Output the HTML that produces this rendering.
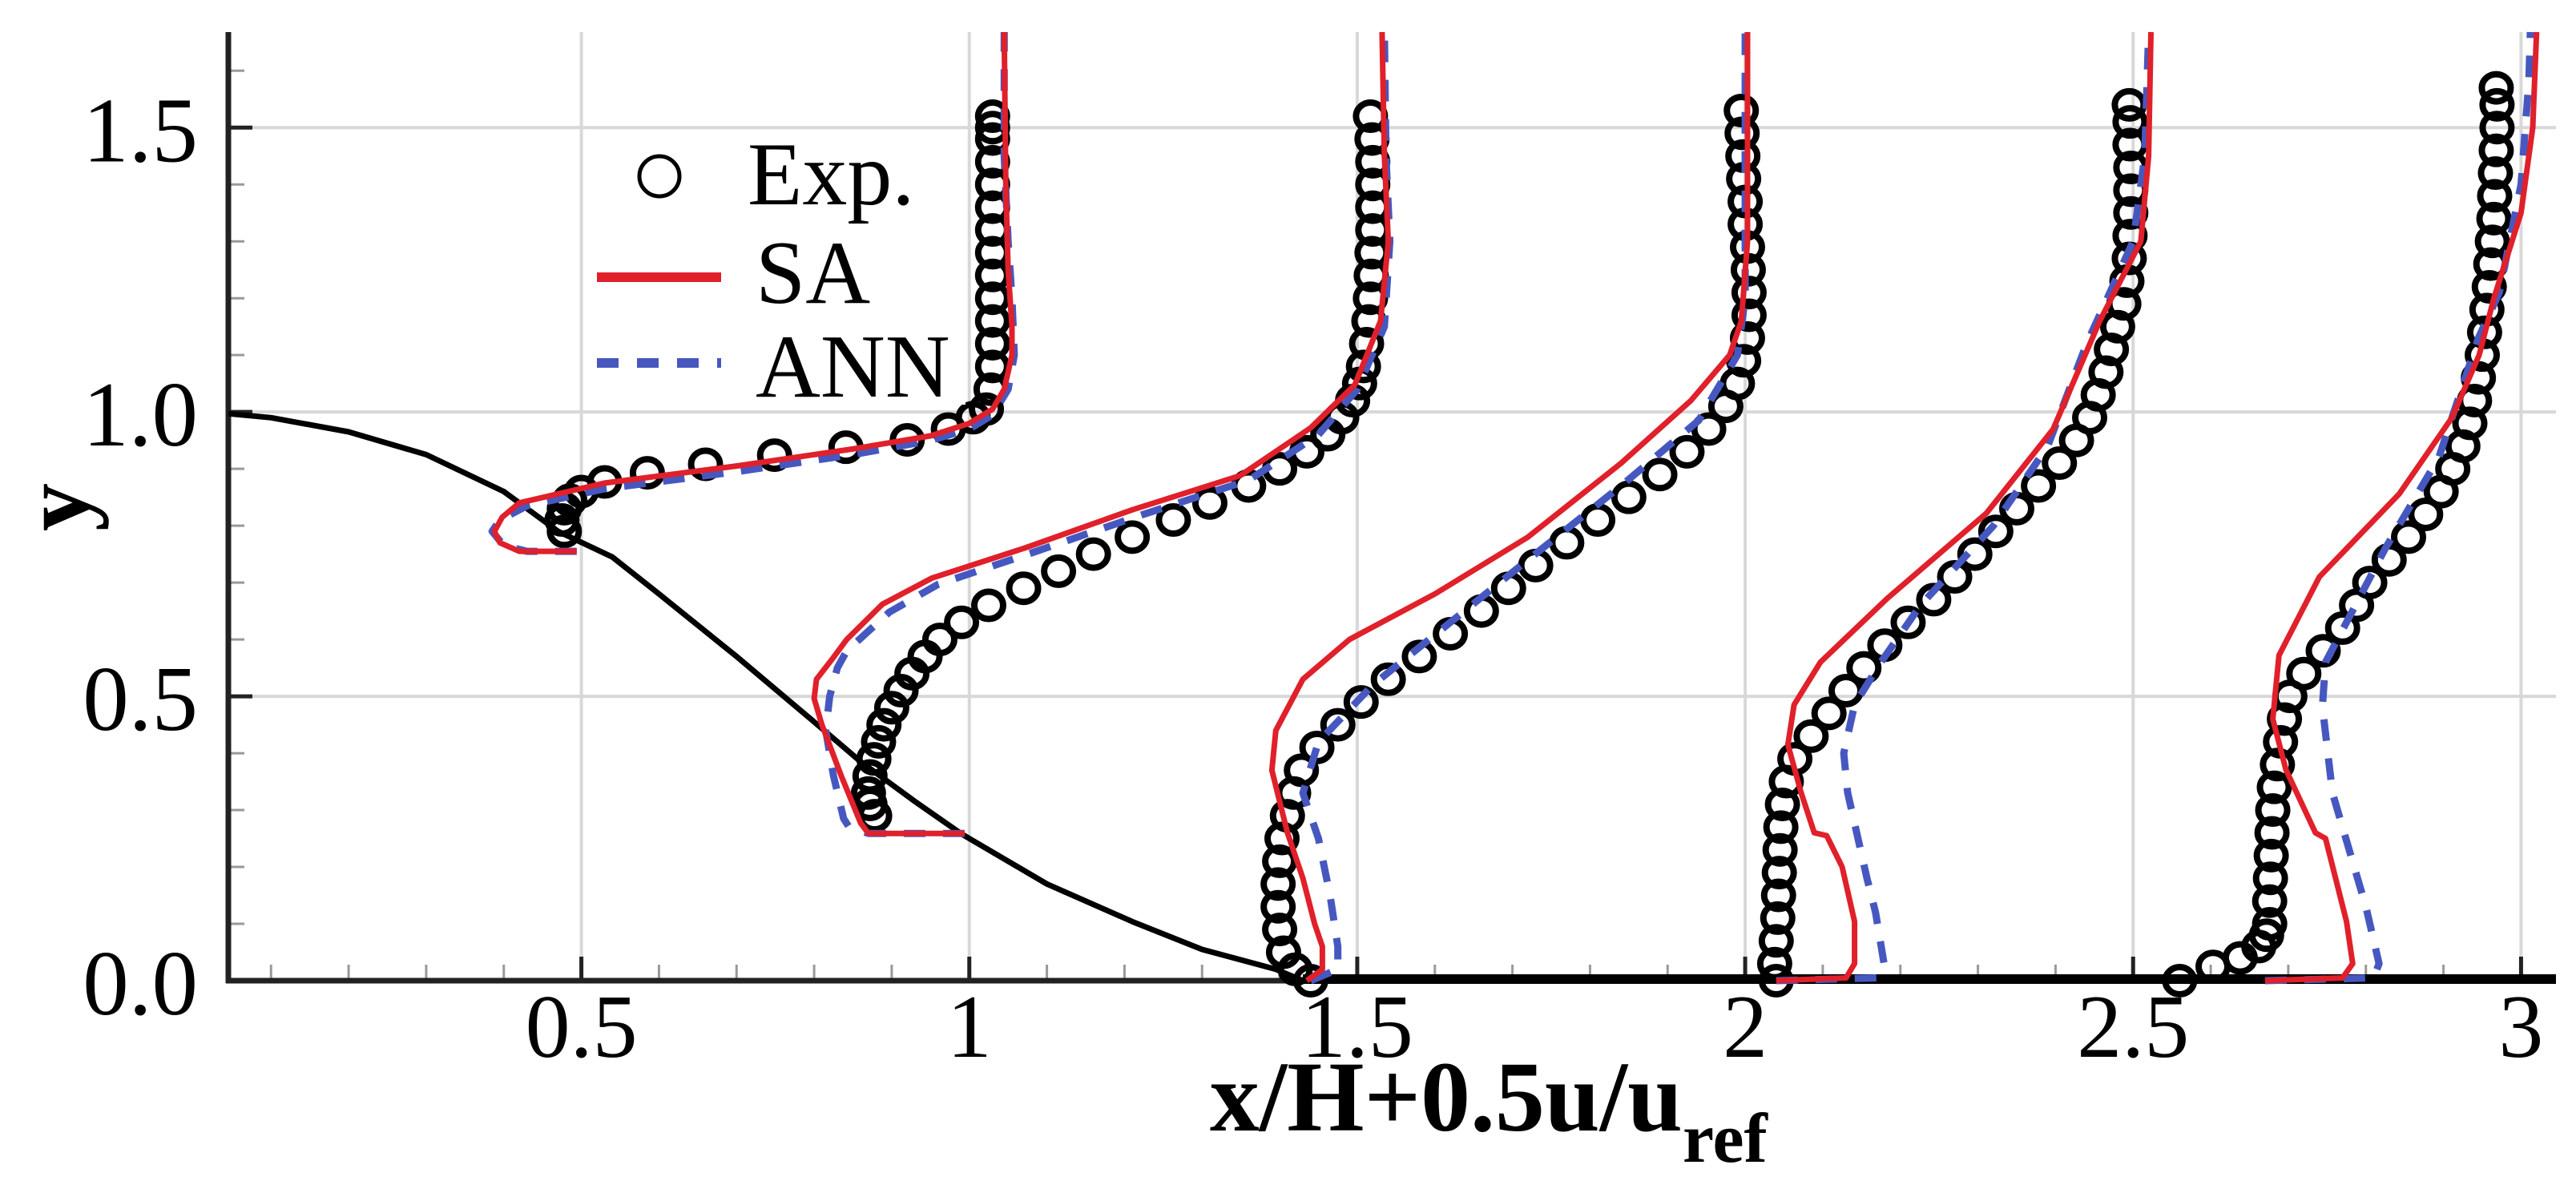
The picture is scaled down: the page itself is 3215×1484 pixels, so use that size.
<!DOCTYPE html>
<html><head><meta charset="utf-8"><style>
html,body{margin:0;padding:0;background:#fff;}
svg{display:block;}
text{font-family:"Liberation Serif","DejaVu Serif",serif;fill:#000;}
</style></head><body>
<svg id="chart" width="3215" height="1484" viewBox="0 0 3215 1484" xmlns="http://www.w3.org/2000/svg">
<g id="grid"></g>
<g id="axes"></g>
<g id="series"></g>
<g id="legend">
  <rect x="735" y="165" width="470" height="340" fill="#fff"/>
  <circle cx="823" cy="220" r="25" fill="none" stroke="#000" stroke-width="5"/>
  <text x="933" y="255" font-size="112">Exp.</text>
  <line x1="745" y1="346" x2="900" y2="346" stroke="#e0202a" stroke-width="12"/>
  <text x="943" y="378" font-size="112">SA</text>
  <line x1="745" y1="453" x2="900" y2="453" stroke="#4658c0" stroke-width="12" stroke-dasharray="27,23"/>
  <text x="943" y="495" font-size="112">ANN</text>
</g>
<text x="1510" y="1411" font-size="125" font-weight="bold" textLength="590" lengthAdjust="spacingAndGlyphs">x/H+0.5u/u</text>
<text x="2100" y="1450" font-size="88" font-weight="bold">ref</text>
<text transform="translate(110,633) rotate(-90)" text-anchor="middle" font-size="120" font-weight="bold">y</text>
</svg>
<script>
// ---- data ----
const xTicks = [0.5, 1, 1.5, 2, 2.5, 3];
const xTickLabels = ["0.5", "1", "1.5", "2", "2.5", "3"];
const yTicks = [0.0, 0.5, 1.0, 1.5];
const yTickLabels = ["0.0", "0.5", "1.0", "1.5"];

const hillX = [0.045,0.1,0.2,0.3,0.4,0.47,0.54,0.6,0.7,0.8,0.86,0.93,0.99,1.1,1.21,1.3,1.395,1.43,3.045];
const hillY = [0.997,0.99,0.965,0.925,0.86,0.79,0.745,0.68,0.57,0.455,0.385,0.315,0.258,0.17,0.104,0.055,0.02,0.0,0.0];

const exp1X = [0.478,0.475,0.478,0.485,0.5,0.53,0.585,0.66,0.749,0.841,0.92,0.973,1.005,1.022,1.028,1.03,1.03,1.03,1.03,1.03,1.03,1.03,1.03,1.03,1.03,1.03,1.03,1.03];
const exp1Y = [0.79,0.81,0.83,0.845,0.86,0.877,0.893,0.908,0.924,0.938,0.951,0.97,0.99,1.005,1.04,1.08,1.12,1.16,1.2,1.24,1.28,1.32,1.36,1.4,1.44,1.48,1.5,1.52];

const exp2X = [0.878,0.872,0.870,0.872,0.877,0.883,0.89,0.90,0.912,0.926,0.943,0.962,0.99,1.025,1.07,1.115,1.16,1.21,1.263,1.31,1.36,1.40,1.435,1.462,1.48,1.494,1.503,1.508,1.512,1.515,1.517,1.518,1.519,1.52,1.52,1.52,1.52,1.519,1.517];
const exp2Y = [0.29,0.31,0.33,0.36,0.39,0.42,0.45,0.48,0.51,0.54,0.57,0.60,0.63,0.66,0.69,0.72,0.75,0.78,0.81,0.84,0.87,0.90,0.93,0.96,0.99,1.02,1.05,1.08,1.12,1.16,1.20,1.24,1.28,1.32,1.36,1.40,1.44,1.48,1.52];

const exp3X = [1.44,1.42,1.405,1.40,1.398,1.398,1.40,1.403,1.41,1.418,1.428,1.448,1.475,1.505,1.54,1.58,1.62,1.66,1.695,1.73,1.77,1.81,1.85,1.89,1.925,1.953,1.975,1.99,1.998,2.003,2.005,2.005,2.004,2.003,2.0,2.0,1.998,1.997,1.996,1.995];
const exp3Y = [0.0,0.02,0.05,0.09,0.13,0.17,0.21,0.25,0.29,0.33,0.37,0.41,0.45,0.49,0.53,0.57,0.61,0.65,0.69,0.73,0.77,0.81,0.85,0.89,0.93,0.97,1.01,1.05,1.09,1.13,1.17,1.21,1.25,1.29,1.33,1.37,1.41,1.45,1.49,1.53];

const exp4X = [2.04,2.038,2.04,2.042,2.043,2.044,2.045,2.046,2.048,2.053,2.064,2.085,2.108,2.13,2.153,2.18,2.21,2.243,2.27,2.296,2.323,2.35,2.378,2.405,2.427,2.444,2.455,2.465,2.472,2.48,2.488,2.492,2.495,2.496,2.497,2.497,2.497,2.496,2.496,2.495];
const exp4Y = [0.0,0.03,0.07,0.11,0.15,0.19,0.23,0.27,0.31,0.35,0.39,0.43,0.47,0.51,0.55,0.59,0.63,0.67,0.71,0.75,0.79,0.83,0.87,0.91,0.95,0.99,1.03,1.07,1.11,1.15,1.19,1.23,1.27,1.31,1.35,1.39,1.43,1.47,1.51,1.54];

const exp5X = [2.56,2.603,2.638,2.662,2.672,2.676,2.676,2.677,2.678,2.679,2.68,2.682,2.686,2.69,2.695,2.702,2.72,2.745,2.77,2.788,2.805,2.83,2.855,2.877,2.897,2.912,2.925,2.934,2.94,2.945,2.95,2.953,2.956,2.959,2.961,2.963,2.965,2.966,2.967,2.968,2.969,2.969,2.968];
const exp5Y = [0.0,0.025,0.04,0.06,0.08,0.1,0.14,0.18,0.22,0.26,0.30,0.34,0.38,0.42,0.46,0.50,0.54,0.58,0.62,0.66,0.70,0.74,0.78,0.82,0.86,0.90,0.94,0.98,1.02,1.06,1.10,1.14,1.18,1.22,1.26,1.30,1.34,1.38,1.42,1.46,1.50,1.54,1.57];

const sa1X = [0.494,0.42,0.395,0.388,0.398,0.42,0.53,0.7,0.85,0.95,1.0,1.03,1.045,1.055,1.055,1.05,1.047,1.045];
const sa1Y = [0.755,0.755,0.77,0.79,0.815,0.84,0.875,0.905,0.935,0.958,0.98,1.005,1.04,1.1,1.15,1.25,1.4,1.668];
const ann1X = [0.494,0.43,0.4,0.385,0.395,0.43,0.53,0.7,0.85,0.95,1.0,1.03,1.05,1.058,1.055,1.05,1.045,1.045];
const ann1Y = [0.755,0.755,0.765,0.79,0.81,0.835,0.865,0.895,0.925,0.95,0.97,0.995,1.04,1.1,1.2,1.3,1.45,1.668];

const sa2X = [0.994,0.87,0.86,0.835,0.81,0.80,0.803,0.823,0.842,0.888,0.952,1.072,1.21,1.349,1.44,1.497,1.53,1.54,1.535,1.532];
const sa2Y = [0.259,0.259,0.277,0.36,0.45,0.496,0.53,0.565,0.60,0.662,0.708,0.761,0.828,0.888,0.972,1.048,1.16,1.3,1.45,1.668];
const ann2X = [0.994,0.87,0.845,0.838,0.825,0.815,0.82,0.83,0.842,0.897,0.96,1.08,1.22,1.36,1.45,1.5,1.535,1.542,1.537,1.535];
const ann2Y = [0.259,0.259,0.27,0.285,0.36,0.44,0.5,0.55,0.58,0.648,0.697,0.752,0.818,0.88,0.96,1.04,1.15,1.3,1.45,1.668];

const sa3X = [1.435,1.455,1.455,1.445,1.43,1.41,1.39,1.395,1.43,1.49,1.6,1.72,1.84,1.93,1.98,1.995,2.003,2.003];
const sa3Y = [0.0,0.02,0.06,0.1,0.18,0.26,0.37,0.44,0.53,0.6,0.68,0.78,0.91,1.02,1.1,1.16,1.3,1.668];
const ann3X = [1.44,1.475,1.475,1.465,1.45,1.43,1.45,1.52,1.62,1.72,1.84,1.94,1.99,2.0,2.0];
const ann3Y = [0.0,0.02,0.06,0.15,0.25,0.33,0.42,0.52,0.63,0.74,0.87,0.985,1.1,1.2,1.668];

const sa4X = [2.04,2.13,2.141,2.141,2.125,2.105,2.089,2.072,2.055,2.063,2.097,2.183,2.311,2.397,2.457,2.51,2.52,2.523];
const sa4Y = [0.0,0.005,0.03,0.104,0.2,0.255,0.26,0.331,0.415,0.485,0.56,0.672,0.822,0.97,1.16,1.3,1.45,1.668];
const ann4X = [2.04,2.17,2.179,2.168,2.157,2.132,2.127,2.141,2.175,2.226,2.32,2.39,2.44,2.5,2.515,2.52];
const ann4Y = [0.0,0.005,0.03,0.12,0.18,0.331,0.4,0.485,0.56,0.66,0.8,0.94,1.12,1.3,1.45,1.668];

const sa5X = [2.67,2.77,2.783,2.775,2.748,2.735,2.697,2.68,2.688,2.74,2.843,2.911,2.946,2.965,3.0,3.015,3.02];
const sa5Y = [0.0,0.005,0.03,0.104,0.25,0.26,0.371,0.46,0.572,0.71,0.856,0.99,1.1,1.2,1.35,1.5,1.668];
const ann5X = [2.67,2.81,2.817,2.8,2.757,2.744,2.748,2.825,2.894,2.945,2.972,3.0,3.01,3.012];
const ann5Y = [0.0,0.005,0.03,0.13,0.33,0.482,0.56,0.76,0.92,1.13,1.21,1.4,1.58,1.668];

// ---- axis functions ----
const X_MIN = 0.045, X_MAX = 3.045, Y_MIN = 0, Y_MAX = 1.668;
const PX_LEFT = 285, PX_RIGHT = 3190, PX_BOTTOM = 1224, PX_TOP = 40;
function sx(v){ return PX_LEFT + (v - X_MIN) / (X_MAX - X_MIN) * (PX_RIGHT - PX_LEFT); }
function sy(v){ return PX_BOTTOM - (v - Y_MIN) / (Y_MAX - Y_MIN) * (PX_BOTTOM - PX_TOP); }

const NS = "http://www.w3.org/2000/svg";
function mk(tag, attrs, parent){
  const e = document.createElementNS(NS, tag);
  for (const k in attrs) e.setAttribute(k, attrs[k]);
  parent.appendChild(e);
  return e;
}
const grid = document.getElementById('grid');
const axes = document.getElementById('axes');
const series = document.getElementById('series');

xTicks.forEach((t) => {
  const l = mk('line', {x1: sx(t), x2: sx(t), y1: PX_TOP, y2: PX_BOTTOM, stroke: '#d8d8d8', 'stroke-width': 4}, grid);
  
  
});
yTicks.forEach((t) => {
  if (t === 0) return;
  const l = mk('line', {x1: PX_LEFT, x2: PX_RIGHT, y1: sy(t), y2: sy(t), stroke: '#d8d8d8', 'stroke-width': 4}, grid);
  
  
});

for (let i = 1; i <= 30; i++) {
  const v = i / 10;
  if (v < X_MIN || v > X_MAX) continue;
  const major = Math.abs(v * 2 - Math.round(v * 2)) < 1e-6;
  const l = mk('line', {x1: sx(v), x2: sx(v), y1: PX_BOTTOM, y2: PX_BOTTOM - (major ? 30 : 20), stroke: major ? '#222' : '#999', 'stroke-width': major ? 5 : 3}, axes);
  
  
}
for (let i = 1; i <= 16; i++) {
  const v = i / 10;
  const major = (i % 5 === 0);
  const l = mk('line', {x1: PX_LEFT, x2: PX_LEFT + (major ? 30 : 20), y1: sy(v), y2: sy(v), stroke: major ? '#222' : '#999', 'stroke-width': major ? 5 : 3}, axes);
  
  
}

const ya = mk('line', {x1: PX_LEFT, x2: PX_LEFT, y1: PX_TOP, y2: PX_BOTTOM + 3, stroke: '#222', 'stroke-width': 7}, axes);


const xa = mk('line', {x1: PX_LEFT - 3, x2: PX_RIGHT, y1: PX_BOTTOM, y2: PX_BOTTOM, stroke: '#222', 'stroke-width': 7}, axes);



xTicks.forEach((t, i) => {
  const tx = mk('text', {x: sx(t), y: 1319, 'text-anchor': 'middle', 'font-size': 112}, axes);
  tx.textContent = xTickLabels[i];
  
  
});
yTicks.forEach((t, i) => {
  const tx = mk('text', {x: 247, y: sy(t) + 42, 'text-anchor': 'end', 'font-size': 115}, axes);
  tx.textContent = yTickLabels[i];
  
  
});

function pts(xs, ys){ return xs.map((x, i) => sx(x).toFixed(1) + ',' + sy(ys[i]).toFixed(1)).join(' '); }

const hill = mk('polyline', {points: pts(hillX, hillY), fill: 'none', stroke: '#000', 'stroke-width': 7, 'stroke-linejoin': 'round'}, series);


const floor = mk('line', {x1: sx(1.43), x2: PX_RIGHT, y1: PX_BOTTOM - 2, y2: PX_BOTTOM - 2, stroke: '#000', 'stroke-width': 12}, series);



const expSets = [[exp1X, exp1Y], [exp2X, exp2Y], [exp3X, exp3Y], [exp4X, exp4Y], [exp5X, exp5Y]];
expSets.forEach((s, k) => {
  const g = mk('g', {}, series);
  
  
  s[0].forEach((x, i) => {
    const c = mk('ellipse', {cx: sx(x), cy: sy(s[1][i]), rx: 18, ry: 17, fill: 'none', stroke: '#000', 'stroke-width': 8}, g);
    
    
  });
});

const saSets = [[sa1X, sa1Y], [sa2X, sa2Y], [sa3X, sa3Y], [sa4X, sa4Y], [sa5X, sa5Y]];
const annSets = [[ann1X, ann1Y], [ann2X, ann2Y], [ann3X, ann3Y], [ann4X, ann4Y], [ann5X, ann5Y]];
annSets.forEach((s, k) => {
  const p = mk('polyline', {points: pts(s[0], s[1]), fill: 'none', stroke: '#4658c0', 'stroke-width': 9, 'stroke-dasharray': '27,22', 'stroke-linejoin': 'round'}, series);
  
  
});
saSets.forEach((s, k) => {
  const p = mk('polyline', {points: pts(s[0], s[1]), fill: 'none', stroke: '#e0202a', 'stroke-width': 7, 'stroke-linejoin': 'round'}, series);
  
  
});
</script>
</body></html>
